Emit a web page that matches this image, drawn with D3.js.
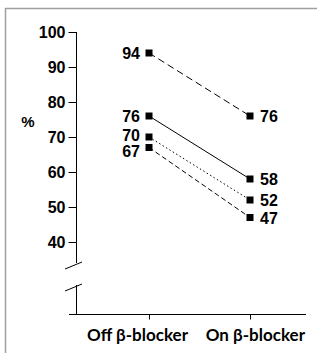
<!DOCTYPE html>
<html>
<head>
<meta charset="utf-8">
<script src="https://cdn.jsdelivr.net/npm/d3@7"></script>
<style>
  body { margin: 0; background: #fff; }
  svg { display: block; }
</style>
</head>
<body>
<div id="chart"></div>
<script>
// data
const groups = ["Off β-blocker", "On β-blocker"]
const offValues = [94, 76, 70, 67]
const onValues = [76, 58, 52, 47]
const lineDashes = ["7,4", null, "1.5,2.5", "5,3"]
const yTicks = [40, 50, 60, 70, 80, 90, 100]

const W = 317, H = 356

const svg = d3.select("#chart")
  .append("svg")
    .attr("width", W)
    .attr("height", H)

// frame
svg.append("line").attr("x1", 5).attr("x2", W).attr("y1", 8.5).attr("y2", 8.5)
  .attr("stroke", "#a0a0a0").attr("stroke-width", 1.5)
svg.append("line").attr("x1", 5.5).attr("x2", 5.5).attr("y1", 8).attr("y2", 353)
  .attr("stroke", "#a0a0a0").attr("stroke-width", 1.5)

const y = d3.scaleLinear().domain([40, 100]).range([242, 32])
const x = d3.scalePoint().domain(groups).range([149, 250])

const axisX = 76.5, baseY = 314.5

// y axis
const gy = svg.append("g")
  .attr("transform", `translate(${axisX},0)`)
  .call(d3.axisLeft(y).tickValues(yTicks).tickSize(8).tickSizeOuter(0).tickPadding(3))
gy.select(".domain").remove()
gy.selectAll("text")
  .style("font-family", "'Liberation Sans', Arial, sans-serif")
  .style("font-weight", "bold")
  .style("font-size", "16px")
  .attr("fill", "#000")
gy.selectAll("line").attr("stroke", "#000")

// axis line with break
svg.append("line").attr("x1", axisX).attr("x2", axisX).attr("y1", y(100)).attr("y2", 263).attr("stroke", "#000")
svg.append("line").attr("x1", axisX).attr("x2", axisX).attr("y1", 285).attr("y2", baseY).attr("stroke", "#000")
svg.append("line").attr("x1", 65).attr("y1", 269).attr("x2", 82).attr("y2", 262).attr("stroke", "#000")
svg.append("line").attr("x1", 65).attr("y1", 291).attr("x2", 82).attr("y2", 284).attr("stroke", "#000")

// x axis
svg.append("line").attr("x1", 69).attr("x2", 306).attr("y1", baseY).attr("y2", baseY).attr("stroke", "#000")
svg.selectAll(".xtick")
  .data(groups)
  .join("line")
    .attr("x1", d => x(d) + 0.5).attr("x2", d => x(d) + 0.5)
    .attr("y1", baseY).attr("y2", baseY + 5)
    .attr("stroke", "#000")
svg.selectAll(".xlab")
  .data(groups)
  .join("text")
    .attr("x", (d, i) => i == 0 ? 188 : 305)
    .attr("y", 341)
    .attr("text-anchor", "end")
    .style("font-family", "Lato, 'Open Sans', sans-serif")
    .style("font-weight", "bold")
    .style("font-size", "17px")
    .text(d => d)

// % label
svg.append("text")
  .attr("x", 28).attr("y", 127)
  .attr("text-anchor", "middle")
  .style("font-family", "'Liberation Sans', Arial, sans-serif")
  .style("font-weight", "bold")
  .style("font-size", "15px")
  .text("%")

// lines
const pairs = offValues.map((v, i) => ({off: v, on: onValues[i], dash: lineDashes[i]}))
svg.selectAll(".pair")
  .data(pairs)
  .join("line")
    .attr("x1", x(groups[0])).attr("y1", d => y(d.off))
    .attr("x2", x(groups[1])).attr("y2", d => y(d.on))
    .attr("stroke", "#000")
    .attr("stroke-width", 1)
    .attr("stroke-dasharray", d => d.dash)

// markers
const sq = 7
svg.selectAll(".moff")
  .data(offValues)
  .join("rect")
    .attr("x", x(groups[0]) - sq / 2).attr("y", d => y(d) - sq / 2)
    .attr("width", sq).attr("height", sq)
svg.selectAll(".mon")
  .data(onValues)
  .join("rect")
    .attr("x", x(groups[1]) - sq / 2).attr("y", d => y(d) - sq / 2)
    .attr("width", sq).attr("height", sq)

// value labels
const labStyle = sel => sel
  .style("font-family", "'Liberation Sans', Arial, sans-serif")
  .style("font-weight", "bold")
  .style("font-size", "16px")
  .attr("dy", "0.36em")

// left labels: 70 and 67 are close, nudge apart
const offNudge = [0, 0, -1.5, 4]
svg.selectAll(".loff")
  .data(offValues)
  .join("text")
    .attr("x", x(groups[0]) - 9)
    .attr("y", (d, i) => y(d) + offNudge[i])
    .attr("text-anchor", "end")
    .call(labStyle)
    .text(d => d)

const onNudge = [0, 0, 0, 1]
svg.selectAll(".lon")
  .data(onValues)
  .join("text")
    .attr("x", x(groups[1]) + 10)
    .attr("y", (d, i) => y(d) + onNudge[i])
    .attr("text-anchor", "start")
    .call(labStyle)
    .text(d => d)
</script>
</body>
</html>
